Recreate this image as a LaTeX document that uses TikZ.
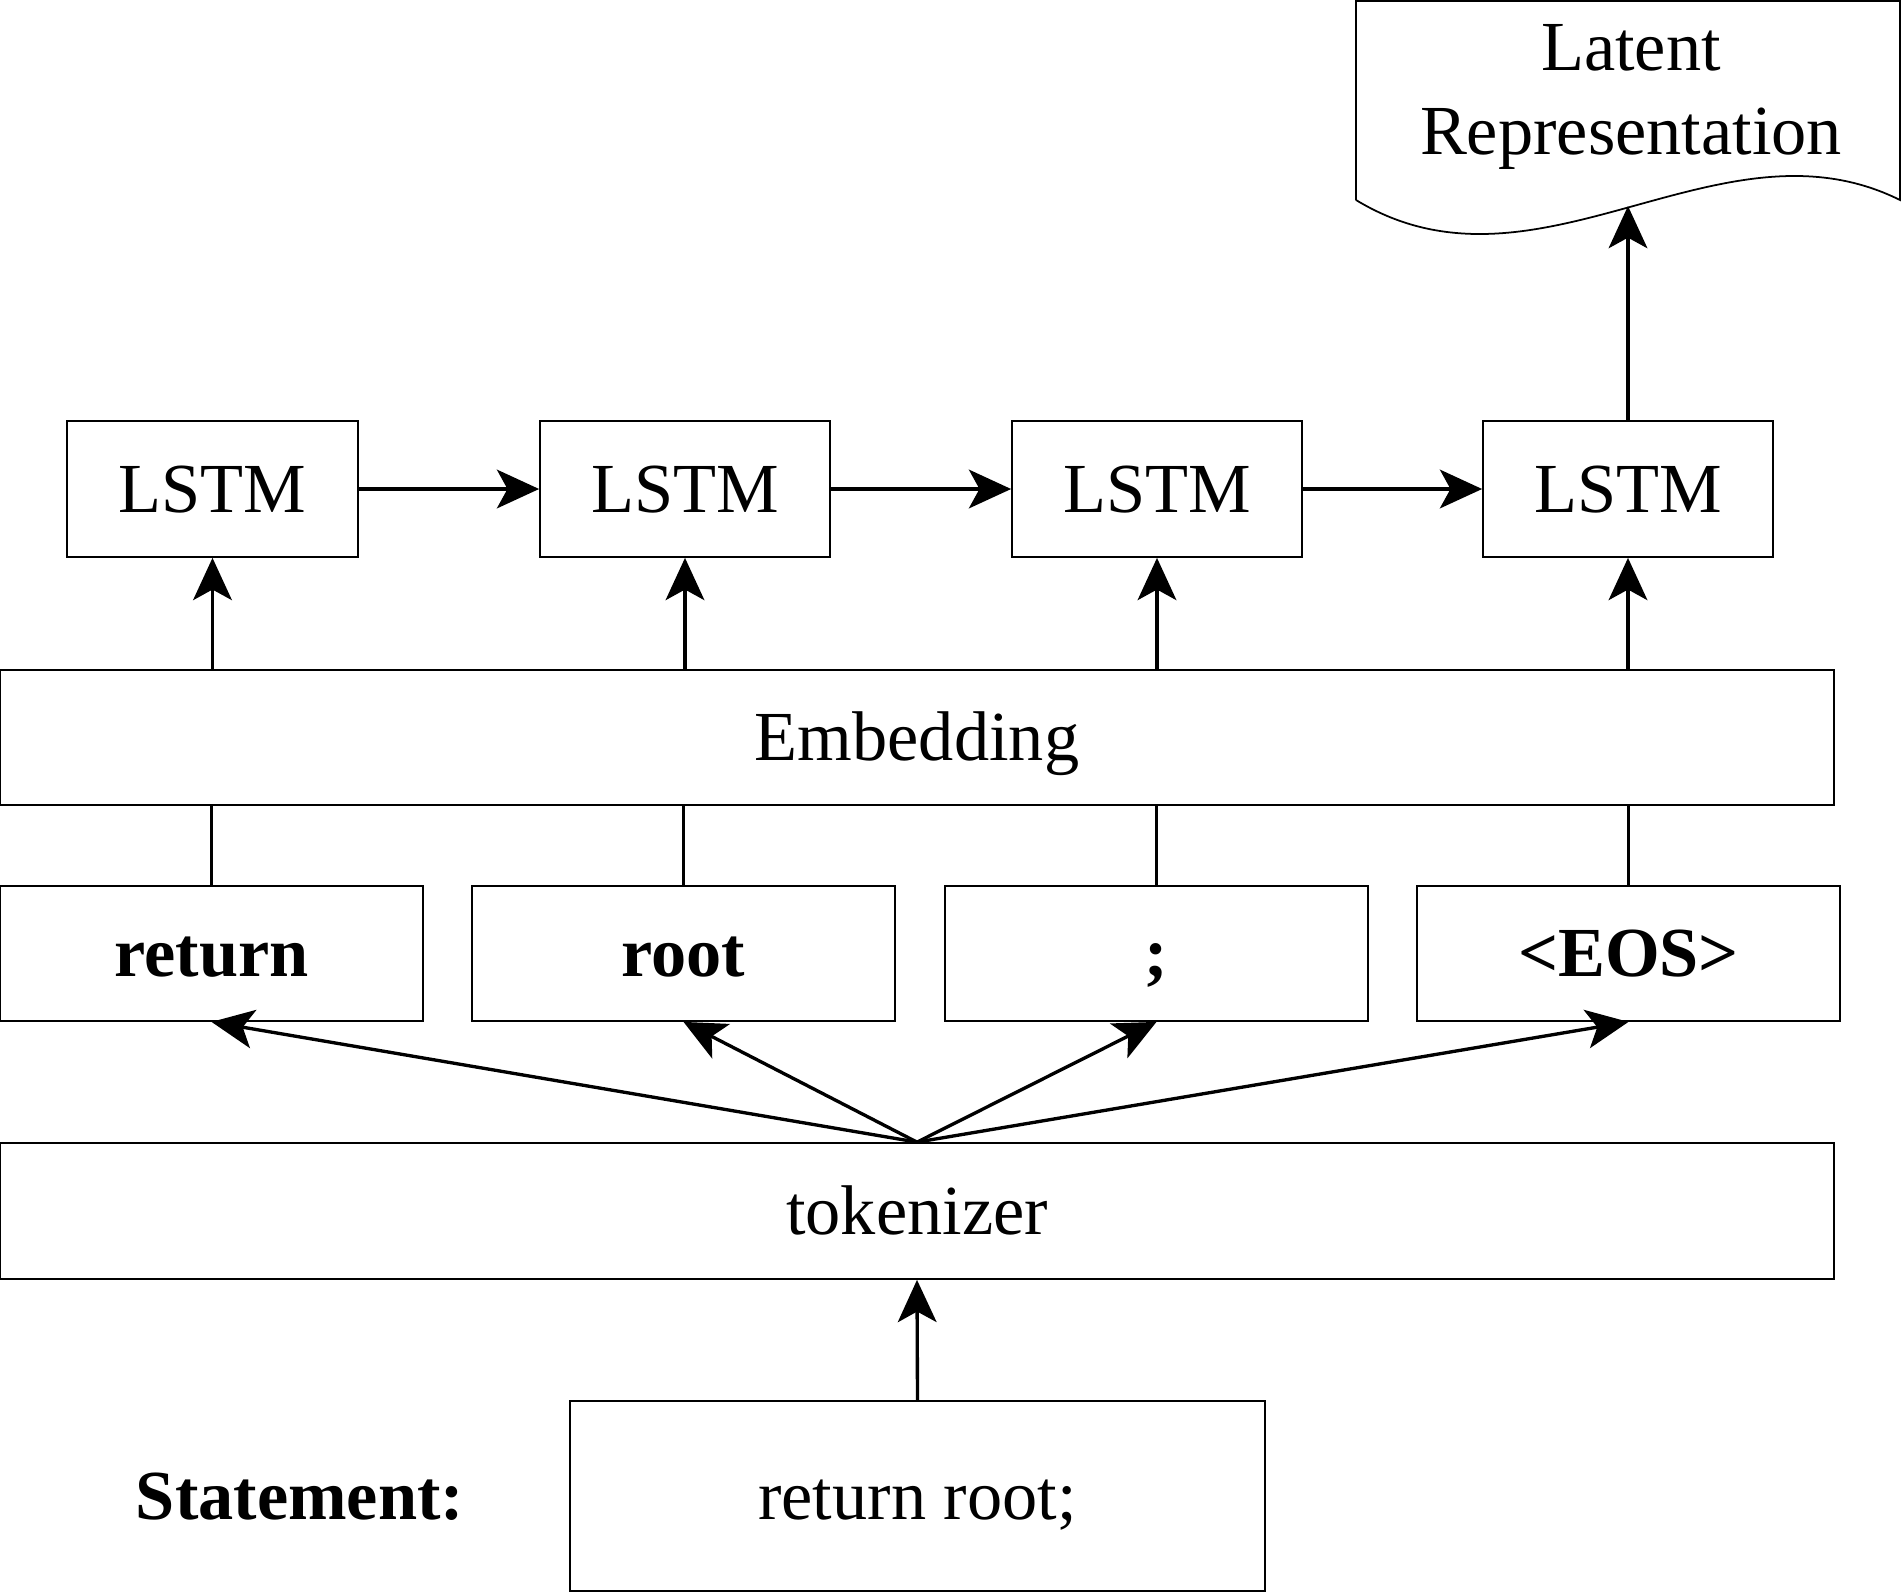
\documentclass[tikz,border=0pt]{standalone}
\usepackage{fontspec}
\setmainfont{Liberation Serif}
\usetikzlibrary{arrows.meta}
\begin{document}
\begin{tikzpicture}[x=0.01cm,y=-0.01cm,
  txt/.style={font=\fontsize{20}{24}\selectfont, text height=13.2pt, text depth=0pt},
  box/.style={draw, line width=0.5pt, inner sep=0pt, txt},
  bbox/.style={box, font=\fontsize{20}{24}\selectfont\bfseries},
  arr/.style={line width=0.95pt, -{Stealth[length=12pt,width=11pt,inset=3pt]}},
  ln/.style={line width=0.9pt}]
\useasboundingbox (0,0) rectangle (1902,1593);
% LSTM boxes
\node[box, minimum width=291*0.01cm, minimum height=136*0.01cm] (l1) at (212.5,489) {LSTM};
\node[box, minimum width=290*0.01cm, minimum height=136*0.01cm] (l2) at (685,489) {LSTM};
\node[box, minimum width=290*0.01cm, minimum height=136*0.01cm] (l3) at (1157,489) {LSTM};
\node[box, minimum width=290*0.01cm, minimum height=136*0.01cm] (l4) at (1628,489) {LSTM};
% Embedding
\node[box, minimum width=1834*0.01cm, minimum height=135*0.01cm] (emb) at (917,737.5) {Embedding};
% tokens
\node[bbox, minimum width=423*0.01cm, minimum height=135*0.01cm] (t1) at (211.5,953.5) {return};
\node[bbox, minimum width=423*0.01cm, minimum height=135*0.01cm] (t2) at (683.5,953.5) {root};
\node[bbox, minimum width=423*0.01cm, minimum height=135*0.01cm] (t3) at (1156.5,953.5) {;};
\node[bbox, minimum width=423*0.01cm, minimum height=135*0.01cm] (t4) at (1628.5,953.5) {<EOS>};
% tokenizer
\node[box, minimum width=1834*0.01cm, minimum height=136*0.01cm] (tok) at (917,1211) {tokenizer};
% statement
\node[box, minimum width=695*0.01cm, minimum height=190*0.01cm] (st) at (917.5,1496) {return root;};
\node[txt, font=\fontsize{20}{24}\selectfont\bfseries] (stl) at (300,1496) {Statement:};
% latent document
\draw[line width=0.5pt] (1356,200) -- (1356,1) -- (1900,1) -- (1900,200)
  .. controls (1719,110) and (1537,310) .. (1356,200);
\node[font=\fontsize{20}{24}\selectfont, align=center, inner sep=0pt] (lat) at (1631,97) {Latent\\Representation};
\coordinate (wave) at (1628,206);
% connectors
\draw[arr] (l1.east) -- (l2.west);
\draw[arr] (l2.east) -- (l3.west);
\draw[arr] (l3.east) -- (l4.west);
\draw[arr] (l4.north) -- (wave);
\foreach \i in {1,2,3,4} {
  \draw[arr] (emb.north -| l\i.south) -- (l\i.south);
  \draw[ln] (t\i.north) -- (emb.south -| t\i.north);
  \draw[arr] (tok.north) -- (t\i.south);
}
\draw[arr] (st.north) -- (tok.south);
\end{tikzpicture}
\end{document}
